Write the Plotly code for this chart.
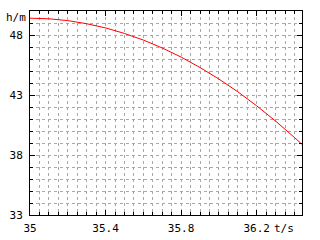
import plotly.graph_objects as go

# time (s) and height (m)
t_values = [35.0, 35.1, 35.2, 35.3, 35.4, 35.5, 35.6, 35.7, 35.8, 35.9,
            36.0, 36.1, 36.2, 36.3, 36.4, 36.44]
h_values = [49.40, 49.35, 49.20, 48.94, 48.59, 48.13, 47.58, 46.92, 46.16, 45.29,
            44.33, 43.27, 42.10, 40.83, 39.46, 38.89]

x_ticks = [35, 35.4, 35.8, 36.2]
y_ticks = [33, 38, 43, 48]
x_label = "t/s"
y_label = "h/m"

FONT = "DejaVu Sans Mono"
grid = dict(gridcolor="#a8a8a8", griddash="3px,3px", gridwidth=1)

fig = go.Figure()
fig.add_trace(go.Scatter(x=t_values, y=h_values, mode="lines",
                         line=dict(color="#ff0000", width=1), showlegend=False))

fig.update_layout(
    width=320, height=240,
    margin=dict(l=30, r=18, t=11, b=25, autoexpand=False),
    paper_bgcolor="white", plot_bgcolor="white",
    font=dict(family=FONT, size=11, color="black"),
    xaxis=dict(range=[35, 36.44], tickvals=x_ticks, ticktext=[str(v) for v in x_ticks],
               showline=True, linecolor="black", linewidth=1, mirror="ticks",
               ticks="inside", ticklen=5, tickcolor="black", showgrid=True, **grid,
               zeroline=False, ticklabelstandoff=3, automargin=False,
               minor=dict(tickmode="linear", tick0=35, dtick=0.05, ticks="inside", ticklen=3,
                          tickcolor="black", showgrid=True, **grid)),
    yaxis=dict(range=[33, 50], tickvals=y_ticks, ticktext=[str(v) for v in y_ticks],
               showline=True, linecolor="black", linewidth=1, mirror="ticks",
               ticks="inside", ticklen=5, tickcolor="black", showgrid=True, **grid,
               zeroline=False, ticklabelstandoff=4, automargin=False,
               minor=dict(tickmode="linear", tick0=33, dtick=1, ticks="inside", ticklen=3,
                          tickcolor="black", showgrid=True, **grid)),
    annotations=[
        dict(text=y_label, xref="paper", yref="paper", x=0, y=0.966, xanchor="right",
             yanchor="middle", xshift=-2, showarrow=False, font=dict(family=FONT, size=11)),
        dict(text=x_label, xref="paper", yref="paper", x=0.934, y=0, xanchor="center",
             yanchor="middle", yshift=-13, showarrow=False, font=dict(family=FONT, size=11)),
    ],
)

fig.write_html("out.html")
